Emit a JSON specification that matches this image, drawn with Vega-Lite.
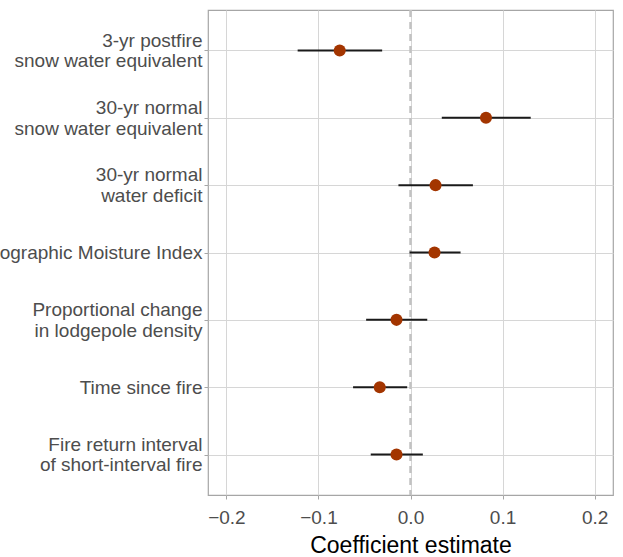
{
  "$schema": "https://vega.github.io/schema/vega-lite/v6.json",
  "autosize": {"type": "none"},
  "width": 405,
  "height": 485,
  "padding": {"left": 208, "top": 10, "right": 10, "bottom": 62},
  "background": "white",
  "config": {
    "font": "Liberation Sans",
    "view": {"stroke": "#a6a6a6", "strokeWidth": 1.2},
    "axis": {
      "gridColor": "#d6d6d6",
      "gridWidth": 1,
      "domain": false,
      "tickColor": "#a6a6a6",
      "tickSize": 4,
      "labelColor": "#4d4d4d",
      "labelFontSize": 19,
      "titleColor": "#000000",
      "titleFontWeight": "normal"
    }
  },
  "data": {
    "values": [
      {"term": "3-yr postfire|snow water equivalent", "est": -0.0769, "lo": -0.1226, "hi": -0.0308},
      {"term": "30-yr normal|snow water equivalent", "est": 0.082, "lo": 0.034, "hi": 0.1306},
      {"term": "30-yr normal|water deficit", "est": 0.0272, "lo": -0.0131, "hi": 0.0678},
      {"term": "Topographic Moisture Index", "est": 0.0261, "lo": -0.001, "hi": 0.0544},
      {"term": "Proportional change|in lodgepole density", "est": -0.0152, "lo": -0.0482, "hi": 0.0182},
      {"term": "Time since fire", "est": -0.0334, "lo": -0.0624, "hi": -0.0036},
      {"term": "Fire return interval|of short-interval fire", "est": -0.0152, "lo": -0.0432, "hi": 0.0134}
    ]
  },
  "encoding": {
    "y": {
      "field": "term",
      "type": "nominal",
      "sort": null,
      "scale": {"type": "point", "padding": 0.6},
      "axis": {
        "title": null,
        "grid": true,
        "labelExpr": "split(datum.label, '|')",
        "labelLineHeight": 20.5,
        "labelPadding": 2,
        "labelLimit": 400,
        "labelOffset": {"condition": {"test": "indexof(datum.value, '|') >= 0", "value": -10.25}, "value": 0}
      }
    }
  },
  "layer": [
    {
      "data": {"values": [{"zero": 0}]},
      "mark": {"type": "rule", "color": "#c2c2c2", "strokeWidth": 2.5, "strokeDash": [7, 5]},
      "encoding": {
        "x": {"field": "zero", "type": "quantitative"},
        "y": null
      }
    },
    {
      "mark": {"type": "rule", "color": "#1a1a1a", "strokeWidth": 2},
      "encoding": {
        "x": {
          "field": "lo",
          "type": "quantitative",
          "scale": {"domain": [-0.22, 0.22], "nice": false, "zero": false},
          "axis": {
            "title": "Coefficient estimate",
            "titleFontSize": 23,
            "titlePadding": 7,
            "values": [-0.2, -0.1, 0, 0.1, 0.2],
            "format": ".1f",
            "labelPadding": 9,
            "labelExpr": "replace(datum.label, '-', '\u2212')"
          }
        },
        "x2": {"field": "hi"}
      }
    },
    {
      "mark": {"type": "circle", "color": "#a33500", "opacity": 1, "size": 145},
      "encoding": {
        "x": {"field": "est", "type": "quantitative"}
      }
    }
  ]
}
